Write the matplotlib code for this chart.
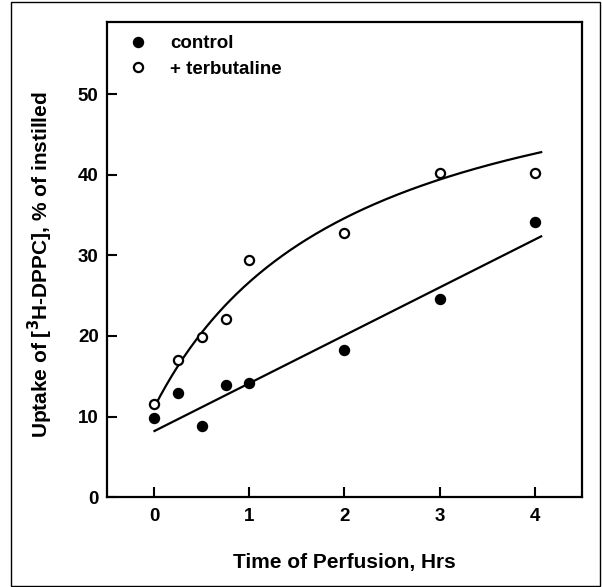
import matplotlib
matplotlib.use("Agg")
import matplotlib.pyplot as plt
import numpy as np
from matplotlib.patches import Rectangle

plt.rcParams["font.family"] = ["Liberation Sans", "DejaVu Sans"]
plt.rcParams["font.weight"] = "bold"

# data
time_hrs = [0, 0.25, 0.5, 0.75, 1, 2, 3, 4]
control = [9.8, 12.9, 8.8, 13.9, 14.2, 18.2, 24.6, 34.2]
terbutaline = [11.5, 17.0, 19.9, 22.1, 29.4, 32.8, 40.2, 40.3]

# fitted curves (parameters)
control_fit = {"intercept": 8.2, "slope": 5.94}
terb_fit = {"y0": 11.2, "vmax": 47.8, "km": 2.08}
fit_range = (0.0, 4.07)

x_ticks = [0, 1, 2, 3, 4]
y_ticks = [0, 10, 20, 30, 40, 50]

fig = plt.figure(figsize=(6.02, 5.87), dpi=100)
ax = fig.add_axes([0.1777, 0.1533, 0.7891, 0.8092])

xf = np.linspace(fit_range[0], fit_range[1], 200)
ax.plot(xf, control_fit["intercept"] + control_fit["slope"] * xf,
        color="black", lw=1.6, zorder=2)
ax.plot(xf, terb_fit["y0"] + terb_fit["vmax"] * xf / (terb_fit["km"] + xf),
        color="black", lw=1.6, zorder=2)

ax.plot(time_hrs, control, "o", ms=7.2, color="black", mec="black",
        label="control", zorder=3)
ax.plot(time_hrs, terbutaline, "o", ms=6.6, mfc="white", mec="black",
        mew=1.6, label="+ terbutaline", zorder=3)

ax.set_xlim(-0.5, 4.5)
ax.set_ylim(0, 59)
ax.set_xticks(x_ticks)
ax.set_yticks(y_ticks)
ax.tick_params(direction="in", length=7, width=1.5, labelsize=13.5, pad=6)
ax.tick_params(axis="x", pad=8)
for s in ax.spines.values():
    s.set_linewidth(1.6)

ax.set_xlabel("Time of Perfusion, Hrs", fontsize=15, fontweight="bold")
ax.set_ylabel(r"Uptake of [$\mathbf{^3}$H-DPPC], % of instilled",
              fontsize=15, fontweight="bold")
ax.xaxis.set_label_coords(0.5, -0.118)
ax.yaxis.set_label_coords(-0.11, 0.49)

leg = ax.legend(loc="upper left", bbox_to_anchor=(0.01, 1.008), frameon=False,
                numpoints=1, handlelength=1.0, handletextpad=1.2,
                labelspacing=0.45, prop={"weight": "bold", "size": 13.5})

fig.patches.append(Rectangle((0.0183, 0.002), 0.978, 0.995, fill=False,
                             lw=1.0, ec="black", transform=fig.transFigure))

fig.savefig("out.png", dpi=100)
